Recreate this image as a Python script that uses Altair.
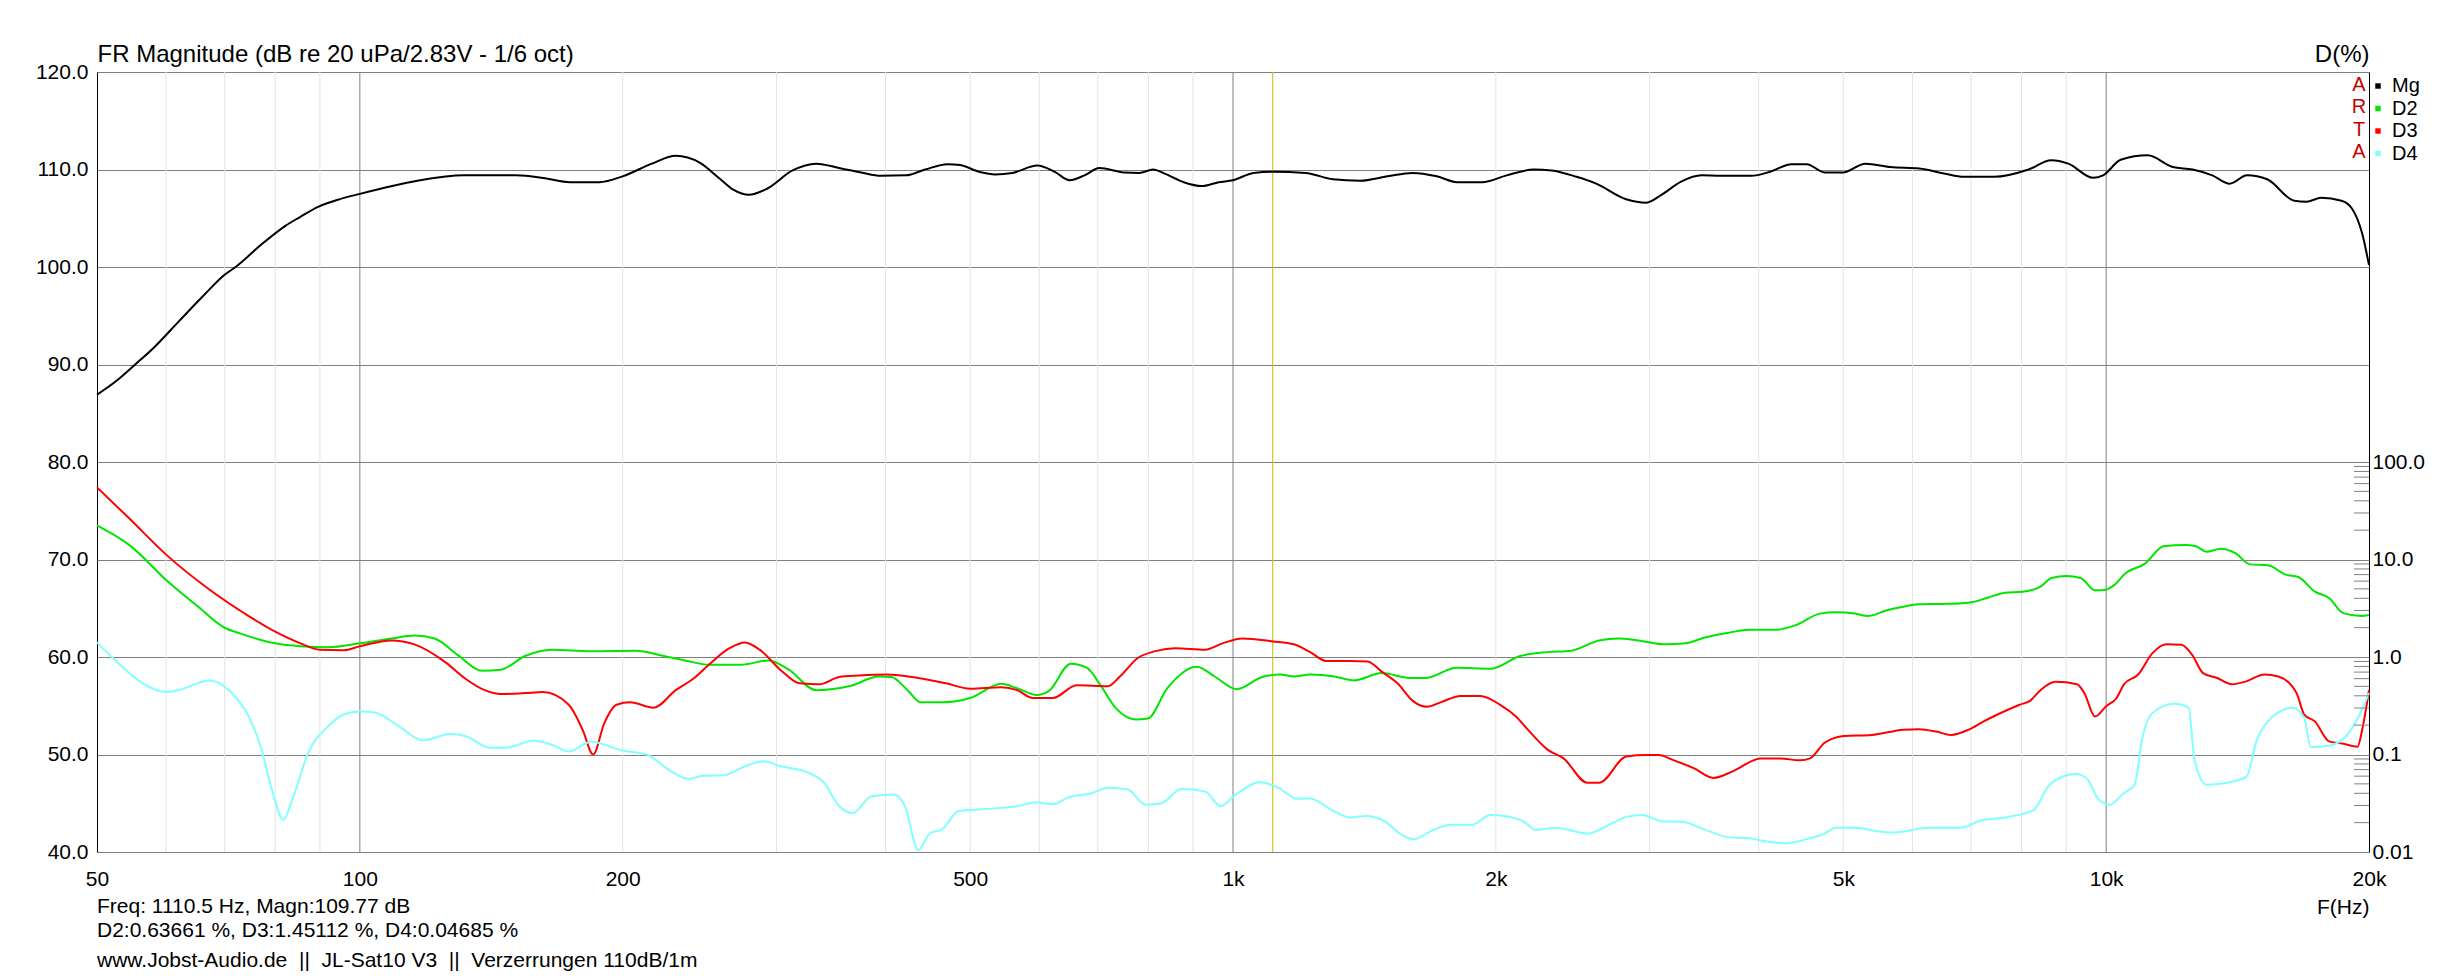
import altair as alt
import pandas as pd

FONT = "Liberation Sans"

# ---------------- data ----------------
mg_freq = [50, 52.6, 55.3, 58.2, 62.0, 66.1, 70, 72.3, 77, 82.1, 85.3, 89.7, 94.4, 100, 105.9, 117.2,
           131.5, 151, 163, 174, 188, 200, 216, 230, 245, 258, 268, 279, 293, 313, 333, 356, 375, 395,
           422, 444, 471, 487, 513, 534, 559, 597, 625, 650, 676, 703, 750, 781, 810, 834, 878, 920,
           963, 1000, 1055, 1110, 1211, 1301, 1398, 1503, 1605, 1712, 1806, 1928, 2058, 2212, 2317,
           2474, 2606, 2820, 2975, 3095, 3260, 3440, 3620, 3920, 4130, 4360, 4540, 4760, 4990, 5300,
           5660, 6110, 6520, 6870, 7440, 8150, 8650, 9050, 9660, 9920, 10390, 11160, 11920, 12560,
           13230, 13850, 14500, 15290, 16420, 16960, 17630, 18600, 19120, 19640, 20000]
mg_db = [86.9, 88.3, 90.0, 91.8, 94.4, 97.0, 99.2, 100.1, 102.25, 104.2, 105.1, 106.2, 106.9, 107.5,
         108.05, 108.9, 109.4, 109.4, 109.1, 108.7, 108.7, 109.3, 110.6, 111.4, 110.7, 109.1, 107.9,
         107.4, 108.05, 109.9, 110.6, 110.1, 109.7, 109.35, 109.4, 110.0, 110.55, 110.45, 109.75,
         109.5, 109.65, 110.4, 109.75, 108.9, 109.4, 110.15, 109.7, 109.65, 110.0, 109.6, 108.7,
         108.3, 108.7, 108.9, 109.65, 109.77, 109.65, 109.0, 108.85, 109.3, 109.65, 109.3, 108.7,
         108.7, 109.4, 110.0, 109.9, 109.25, 108.55, 106.95, 106.6, 107.4, 108.75, 109.4, 109.35,
         109.35, 109.8, 110.55, 110.55, 109.7, 109.7, 110.6, 110.25, 110.1, 109.6, 109.25, 109.25,
         110.0, 110.95, 110.6, 109.15, 109.4, 111.0, 111.45, 110.25, 110.0, 109.4, 108.55, 109.4,
         109.0, 106.8, 106.7, 107.1, 106.8, 106.0, 103.45, 100.2]

# distortion levels, in units of the left (dB) grid: 40 = 0.01 %, 60 = 1 %, 80 = 100 %
d2_freq = [50, 54.6, 60, 65.2, 70, 73, 80, 85.5, 92, 100, 108.6, 115.5, 121.8, 129.5, 138, 145, 154.6,
           166, 184, 207, 223, 237, 251, 273, 294, 310, 333, 365, 393, 406, 424, 439, 464, 500, 543,
           566, 596, 615, 652, 680, 704, 735, 774, 799, 841, 909, 953, 1009, 1080, 1132, 1174, 1226,
           1307, 1376, 1480, 1593, 1660, 1804, 1971, 2133, 2292, 2440, 2626, 2765, 2914, 3130, 3300,
           3470, 3700, 3900, 4190, 4420, 4700, 4900, 5160, 5330, 5610, 5815, 6100, 6580, 7040, 7300,
           7660, 8030, 8420, 8660, 9000, 9350, 9710, 9900, 10280, 10480, 11090, 11630, 12310, 12670,
           13030, 13530, 14060, 14610, 15320, 16060, 16600, 17340, 18000, 18690, 19600, 20000]
d2_lvl = [73.5, 71.4, 67.9, 65.2, 63.0, 62.4, 61.4, 61.1, 61.0, 61.4, 61.9, 62.2, 61.9, 60.2, 58.6,
          58.7, 60.1, 60.75, 60.6, 60.65, 60.1, 59.6, 59.2, 59.2, 59.65, 58.7, 56.6, 57.05, 58.0,
          57.95, 56.6, 55.35, 55.35, 55.8, 57.25, 56.8, 56.1, 56.5, 59.3, 58.9, 57.2, 54.7, 53.6,
          53.7, 56.8, 59.0, 58.0, 56.7, 57.95, 58.2, 58.0, 58.2, 58.0, 57.6, 58.35, 57.85, 57.85,
          58.9, 58.8, 60.1, 60.5, 60.65, 61.7, 61.9, 61.7, 61.3, 61.4, 62.0, 62.5, 62.8, 62.8, 63.3,
          64.45, 64.6, 64.45, 64.2, 64.8, 65.1, 65.4, 65.45, 65.65, 66.05, 66.6, 66.7, 67.25, 68.1,
          68.3, 68.1, 66.85, 66.85, 67.6, 68.45, 69.6, 71.35, 71.5, 71.35, 70.8, 71.1, 70.65, 69.5,
          69.4, 68.45, 68.2, 66.7, 66.05, 64.5, 64.2, 64.3]

d3_freq = [50, 54.6, 60, 67.3, 74.6, 80, 85.5, 90, 95.8, 100, 108.6, 115.5, 125.6, 132, 139, 145, 154.6,
           162, 173.5, 180, 185, 190.5, 196.8, 204, 217, 230, 242, 251, 265, 276, 287, 303, 319, 336,
           354, 373, 401, 436, 469, 500, 543, 566, 590, 622, 662, 719, 742, 778, 815, 859, 929, 973,
           1025, 1111, 1174, 1226, 1278, 1360, 1426, 1480, 1543, 1609, 1668, 1729, 1822, 1919, 2023,
           2109, 2176, 2292, 2391, 2546, 2626, 2822, 2975, 3070, 3200, 3370, 3550, 3740, 4020, 4230,
           4460, 4580, 4760, 5010, 5390, 5860, 6100, 6390, 6640, 6960, 7240, 7510, 7960, 8180, 8420,
           8750, 9260, 9440, 9710, 10000, 10280, 10480, 10880, 11300, 11740, 12190, 12540, 12910,
           13400, 13930, 14470, 15170, 15750, 16520, 16860, 17340, 18000, 18690, 19400, 19680, 20000]
d3_lvl = [77.4, 74.1, 70.5, 66.9, 64.2, 62.6, 61.4, 60.75, 60.7, 61.1, 61.7, 61.3, 59.4, 57.8, 56.6,
          56.2, 56.3, 56.4, 55.1, 52.5, 50.0, 53.2, 55.1, 55.35, 54.8, 56.6, 57.9, 59.2, 60.9, 61.5,
          60.75, 58.7, 57.3, 57.2, 57.95, 58.1, 58.2, 57.85, 57.3, 56.75, 56.9, 56.6, 55.8, 55.8,
          57.1, 57.0, 58.0, 59.9, 60.6, 60.9, 60.75, 61.4, 61.9, 61.6, 61.3, 60.5, 59.6, 59.6, 59.55,
          58.5, 57.3, 55.45, 54.9, 55.35, 56.0, 56.0, 55.1, 53.9, 52.55, 50.5, 49.6, 47.1, 47.1, 49.8,
          49.95, 49.95, 49.4, 48.6, 47.6, 48.3, 49.6, 49.6, 49.4, 49.6, 51.2, 51.9, 52.0, 52.55, 52.6,
          52.35, 52.0, 52.55, 53.4, 54.1, 55.1, 55.5, 56.65, 57.45, 57.2, 56.3, 53.9, 54.95, 55.8,
          57.2, 58.2, 60.4, 61.3, 61.25, 60.25, 58.35, 57.85, 57.2, 57.5, 58.2, 58.0, 56.3, 54.1,
          53.4, 51.35, 51.1, 50.8, 52.9, 56.6]

d4_freq = [50, 52.4, 56.4, 60, 61.9, 67.3, 70.8, 74.6, 77, 79.5, 81.7, 83.7, 87.3, 92, 95.8, 100, 104,
           110.8, 118, 127, 132, 141, 147, 158, 166, 173.5, 184, 200, 213, 227, 238, 246, 262, 273, 290,
           303, 323, 340, 354, 367, 385, 409, 421, 436, 450, 464, 485, 510, 537, 566, 596, 622, 648,
           690, 719, 758, 794, 828, 873, 929, 968, 1004, 1075, 1126, 1186, 1226, 1295, 1360, 1418,
           1495, 1552, 1609, 1694, 1775, 1880, 1971, 2045, 2155, 2222, 2340, 2546, 2711, 2822, 2943,
           3100, 3270, 3470, 3700, 3900, 4110, 4290, 4570, 4760, 4900, 5160, 5500, 5730, 6270, 6830,
           7170, 7730, 8260, 8580, 8920, 9260, 9530, 9800, 10090, 10480, 10780, 10990, 11300, 11970,
           12430, 12620, 13030, 13660, 14470, 14880, 15320, 16350, 16860, 17150, 18000, 18860, 19600,
           20000]
d4_lvl = [61.5, 59.7, 57.3, 56.4, 56.6, 57.6, 56.6, 53.9, 50.8, 46.05, 43.3, 45.4, 50.2, 52.9, 54.1,
          54.4, 54.3, 52.9, 51.45, 52.1, 51.9, 50.7, 50.7, 51.4, 51.0, 50.3, 51.3, 50.4, 50.0, 48.3,
          47.5, 47.8, 47.9, 48.6, 49.3, 48.8, 48.3, 47.1, 44.7, 44.0, 45.7, 45.9, 44.7, 40.2, 41.95,
          42.3, 44.2, 44.35, 44.5, 44.7, 45.1, 44.9, 45.6, 46.05, 46.6, 46.4, 44.85, 45.0, 46.45,
          46.2, 44.7, 45.8, 47.15, 46.6, 45.45, 45.5, 44.35, 43.55, 43.7, 43.1, 41.9, 41.3, 42.25,
          42.8, 42.8, 43.8, 43.7, 43.1, 42.25, 42.5, 41.9, 42.9, 43.6, 43.8, 43.15, 43.1, 42.3, 41.5,
          41.4, 41.05, 40.9, 41.4, 41.9, 42.5, 42.5, 42.1, 42.0, 42.5, 42.5, 43.2, 43.6, 44.3, 46.7,
          47.75, 48.0, 47.4, 45.4, 44.85, 46.05, 46.9, 51.5, 54.25, 55.2, 54.8, 49.5, 46.9, 47.05,
          47.7, 51.5, 53.4, 54.8, 53.75, 50.75, 50.9, 51.95, 54.45, 56.3]

series_names = ["Mg", "D2", "D3", "D4"]
series_colors = ["#000000", "#00e600", "#ff0000", "#80ffff"]

x_ticks = [50, 100, 200, 500, 1000, 2000, 5000, 10000, 20000]
grid_minor = [60, 70, 80, 90, 200, 300, 400, 500, 600, 700, 800, 900,
              2000, 3000, 4000, 5000, 6000, 7000, 8000, 9000]
grid_major = [100, 1000, 10000]
cursor_freq = [1110.5]
y_ticks = [40, 50, 60, 70, 80, 90, 100, 110, 120]
d_ticks = [0.01, 0.1, 1, 10, 100]
d_minor = [0.02, 0.03, 0.04, 0.05, 0.06, 0.07, 0.08, 0.09,
           0.2, 0.3, 0.4, 0.5, 0.6, 0.7, 0.8, 0.9,
           2, 3, 4, 5, 6, 7, 8, 9,
           20, 30, 40, 50, 60, 70, 80, 90]

title_left = "FR Magnitude (dB re 20 uPa/2.83V - 1/6 oct)"
title_right = "D(%)"
x_title = "F(Hz)"
info_lines = ["Freq: 1110.5 Hz, Magn:109.77 dB",
              "D2:0.63661 %, D3:1.45112 %, D4:0.04685 %",
              "www.Jobst-Audio.de\u00a0\u00a0||\u00a0\u00a0JL-Sat10 V3\u00a0\u00a0||\u00a0\u00a0Verzerrungen 110dB/1m"]
brand = "A\nR\nT\nA"

# ---------------- build ----------------
W, H = 2272, 780

rows = []
for name, fr, lv in [("Mg", mg_freq, mg_db), ("D2", d2_freq, d2_lvl),
                     ("D3", d3_freq, d3_lvl), ("D4", d4_freq, d4_lvl)]:
    for f, v in zip(fr, lv):
        rows.append({"series": name, "f": f, "lvl": v})
df = pd.DataFrame(rows)

xscale = alt.Scale(type="log", domain=[50, 20000], nice=False)
x_axis = alt.Axis(
    values=x_ticks,
    labelExpr="datum.value >= 1000 ? format(datum.value / 1000, 'd') + 'k' : format(datum.value, 'd')",
    grid=False, ticks=False, tickSize=0, domain=False, labelPadding=16, labelFontSize=21,
    labelFlush=False, labelOverlap=False,
    title=x_title, titleAngle=0, titleAlign="right", titleBaseline="alphabetic",
    titleX=W, titleY=61, titleFontSize=21)
x_enc = alt.X("f:Q", scale=xscale, axis=x_axis)

left_y = alt.Y("lvl:Q", scale=alt.Scale(domain=[40, 120], nice=False, zero=False), axis=alt.Axis(
    values=y_ticks, format=".1f", grid=True, gridColor="#808080", gridWidth=1,
    ticks=False, tickSize=0, domain=False, labelPadding=9, labelFontSize=21,
    labelFlush=False, labelOverlap=False,
    title=title_left, titleAngle=0, titleAlign="left", titleBaseline="alphabetic",
    titleX=0, titleY=-11, titleFontSize=24))

vminor = alt.Chart(pd.DataFrame({"f": grid_minor})).mark_rule(
    color="#e4e4e4", strokeWidth=1).encode(x=x_enc)
vmajor = alt.Chart(pd.DataFrame({"f": grid_major})).mark_rule(
    color="#808080", strokeWidth=1).encode(x=x_enc)
cursor = alt.Chart(pd.DataFrame({"f": cursor_freq})).mark_rule(
    color="#c0c000", strokeWidth=1).encode(x=x_enc)

lines = alt.Chart(df).mark_line(strokeWidth=2, interpolate="monotone").encode(
    x=x_enc,
    y=left_y,
    color=alt.Color("series:N", scale=alt.Scale(domain=series_names, range=series_colors),
                    legend=alt.Legend(title=None, orient="none", legendX=2271, legendY=4,
                                      direction="vertical", symbolType="square", symbolSize=6,
                                      symbolStrokeWidth=3, labelFontSize=20, labelFont=FONT,
                                      labelColor="black", labelOffset=4, rowPadding=2.5,
                                      padding=0)),
    order=alt.Order("f:Q"))

arta = alt.Chart(pd.DataFrame({"t": [brand]})).mark_text(
    font=FONT, fontSize=20, color="#c40000", align="center", baseline="middle",
    lineBreak="\n", lineHeight=22.4).encode(
    text="t:N", x=alt.value(2262), y=alt.value(13))

info = []
for txt, yy in zip(info_lines, [H + 61, H + 85, H + 115]):
    info.append(alt.Chart(pd.DataFrame({"t": [txt]})).mark_text(
        font=FONT, fontSize=21, color="black", align="left", baseline="alphabetic").encode(
        text="t:N", x=alt.value(0), y=alt.value(yy)))

left = alt.layer(vminor, vmajor, cursor, lines, arta, *info)

right = alt.Chart(pd.DataFrame({"v": d_minor})).mark_rule(color="#808080", strokeWidth=1).encode(
    x=alt.value(W - 15), x2=alt.value(W),
    y=alt.Y("v:Q", scale=alt.Scale(type="log", domain=[0.01, 1e6], nice=False), axis=alt.Axis(
        orient="right", values=d_ticks,
        labelExpr="datum.value >= 0.1 ? format(datum.value, '.1f') : format(datum.value, '.2f')",
        grid=False, ticks=False, tickSize=0, domain=False, labelPadding=3, labelFontSize=21,
        labelFlush=False, labelOverlap=False,
        title=title_right, titleAngle=0, titleAlign="right", titleBaseline="alphabetic",
        titleX=0, titleY=-11, titleFontSize=24)))

chart = alt.layer(left, right).resolve_scale(y="independent").properties(
    width=W, height=H,
    padding={"left": 89, "top": 64, "right": 87, "bottom": 120},
    autosize=alt.AutoSizeParams(type="none"),
    background="white",
).configure_view(stroke="black", strokeWidth=1).configure_axis(
    labelFont=FONT, titleFont=FONT, labelColor="black", titleColor="black",
    titleFontWeight="normal")

chart.save("out.html", embed_options={"renderer": "svg", "actions": False})
